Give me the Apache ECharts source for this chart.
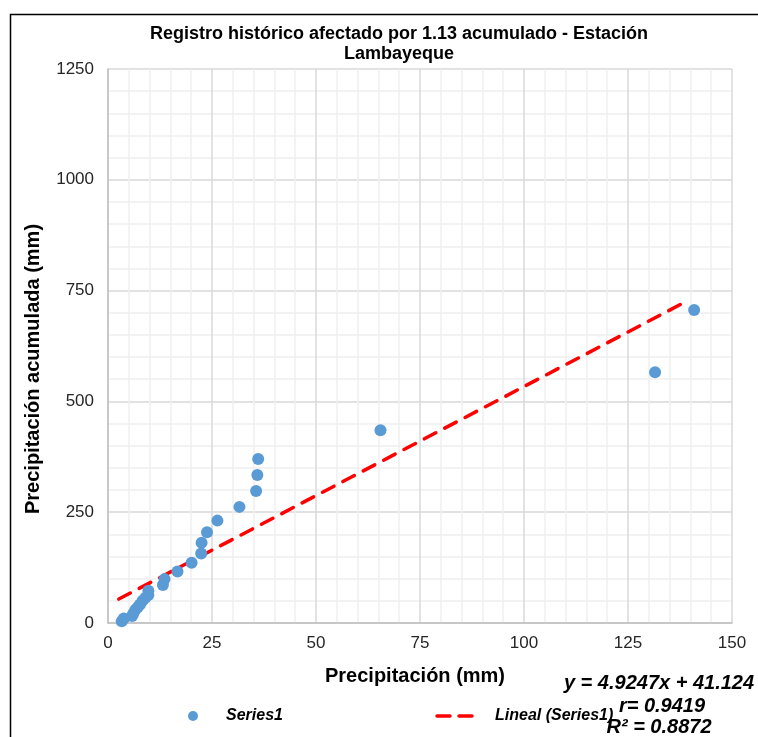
<!DOCTYPE html>
<html>
<head>
<meta charset="utf-8">
<script src="https://cdn.jsdelivr.net/npm/echarts@6/dist/echarts.min.js"></script>
<style>html,body{margin:0;padding:0;background:#fff}#c{width:758px;height:737px}</style>
</head>
<body>
<div id="c"></div>
<script>
// Data
const precip = [3.3, 3.8, 5.8, 6.1, 6.6, 7.2, 7.7, 8.3, 9.0, 9.7, 9.7, 13.2, 13.6, 16.7, 20.1, 22.4, 22.5, 23.8, 26.3, 31.6, 35.6, 35.9, 36.1, 65.5, 131.5, 140.9];
const acum   = [4, 10, 16, 22, 30, 36, 42, 50, 57, 63, 73, 86, 99, 116, 136, 157, 181, 205, 231, 262, 298, 334, 370, 435, 566, 706];
const trendX = [2.6, 139.5];
const trendY = [54, 728];
const xTicks = [0, 25, 50, 75, 100, 125, 150];
const yTicks = [0, 250, 500, 750, 1000, 1250];
const titleLines = ['Registro histórico afectado por 1.13 acumulado - Estación', 'Lambayeque'];
const xTitle = 'Precipitación (mm)';
const yTitle = 'Precipitación acumulada (mm)';
const seriesNames = ['Series1', 'Lineal (Series1)'];
const eqLines = ['y = 4.9247x + 41.124', 'r= 0.9419', 'R² = 0.8872'];

const FONT = '"Liberation Sans", Arial, sans-serif';
const chart = echarts.init(document.getElementById('c'));
const scatter = precip.map((x, i) => [x, acum[i]]);
const trend = trendX.map((x, i) => [x, trendY[i]]);

chart.setOption({
  animation: false,
  backgroundColor: '#fff',
  textStyle: { fontFamily: FONT },
  title: {
    text: titleLines.join('\n'),
    left: 394, top: 19, textAlign: 'center',
    textStyle: { fontSize: 18, fontWeight: 'bold', color: '#000', lineHeight: 20, fontFamily: FONT }
  },
  grid: { left: 108, right: 26, top: 69, bottom: 114, containLabel: false },
  xAxis: {
    type: 'value', min: 0, max: 150, interval: 25,
    axisLine: { show: true, onZero: false, lineStyle: { color: '#bfbfbf', width: 1.5 } },
    axisTick: { show: false },
    axisLabel: { color: '#262626', fontSize: 17, margin: 12, fontFamily: FONT,
      formatter: v => xTicks.includes(v) ? String(v) : '' },
    splitLine: { show: true, lineStyle: { color: '#d9d9d9', width: 1.5 } },
    minorTick: { show: false, splitNumber: 5 },
    minorSplitLine: { show: true, lineStyle: { color: '#efefef', width: 1.5 } }
  },
  yAxis: {
    type: 'value', min: 0, max: 1250, interval: 250,
    axisLine: { show: true, onZero: false, lineStyle: { color: '#bfbfbf', width: 1.5 } },
    axisTick: { show: false },
    axisLabel: { color: '#262626', fontSize: 17, margin: 14, fontFamily: FONT,
      formatter: v => yTicks.includes(v) ? String(v) : '' },
    splitLine: { show: true, lineStyle: { color: '#d9d9d9', width: 1.5 } },
    minorTick: { show: false, splitNumber: 5 },
    minorSplitLine: { show: true, lineStyle: { color: '#efefef', width: 1.5 } }
  },
  series: [
    {
      name: seriesNames[1], type: 'line', data: trend, symbol: 'none', z: 3,
      lineStyle: { color: '#ff0000', width: 3.5, type: [13, 10], cap: 'round' }
    },
    {
      name: seriesNames[0], type: 'scatter', data: scatter, symbol: 'circle', symbolSize: 12, z: 4,
      itemStyle: { color: '#5b9bd5', opacity: 1 }
    }
  ],
  graphic: [
    { type: 'rect', shape: { x: 10.5, y: 14.5, width: 800, height: 800 }, silent: true, z: -10,
      style: { fill: null, stroke: '#000', lineWidth: 1.5 } },
    { type: 'text', x: 415, y: 676, style: { text: xTitle, font: 'bold 20px ' + FONT, fill: '#000', align: 'center', verticalAlign: 'middle' } },
    { type: 'text', x: 33, y: 369, rotation: Math.PI / 2, style: { text: yTitle, font: 'bold 20px ' + FONT, fill: '#000', align: 'center', verticalAlign: 'middle' } },
    { type: 'circle', shape: { cx: 193, cy: 716, r: 5 }, style: { fill: '#5b9bd5' } },
    { type: 'text', x: 226, y: 716, style: { text: seriesNames[0], font: 'italic bold 16px ' + FONT, fill: '#000', align: 'left', verticalAlign: 'middle' } },
    { type: 'line', shape: { x1: 437, y1: 716, x2: 450, y2: 716 }, style: { stroke: '#ff0000', lineWidth: 3.5, lineCap: 'round' } },
    { type: 'line', shape: { x1: 459, y1: 716, x2: 472, y2: 716 }, style: { stroke: '#ff0000', lineWidth: 3.5, lineCap: 'round' } },
    { type: 'text', x: 495, y: 716, style: { text: seriesNames[1], font: 'italic bold 16px ' + FONT, fill: '#000', align: 'left', verticalAlign: 'middle' } },
    { type: 'text', x: 659, y: 683, style: { text: eqLines[0], font: 'italic bold 20px ' + FONT, fill: '#000', align: 'center', verticalAlign: 'middle' } },
    { type: 'text', x: 662, y: 706, style: { text: eqLines[1], font: 'italic bold 20px ' + FONT, fill: '#000', align: 'center', verticalAlign: 'middle' } },
    { type: 'text', x: 659, y: 727, style: { text: eqLines[2], font: 'italic bold 20px ' + FONT, fill: '#000', align: 'center', verticalAlign: 'middle' } }
  ]
});
</script>
</body>
</html>
